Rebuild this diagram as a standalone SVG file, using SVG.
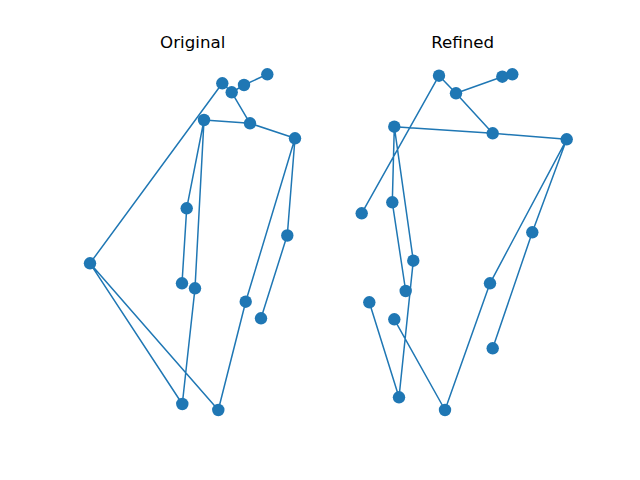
<svg xmlns="http://www.w3.org/2000/svg" width="640" height="480" viewBox="0 0 640 480">
<style>
.t{font-family:"DejaVu Sans",sans-serif;font-size:16.67px;fill:#000;text-anchor:middle}
.e{stroke:#1f77b4;stroke-width:1.5;fill:none;stroke-linecap:round;stroke-linejoin:round}
.n{fill:#1f77b4}
</style>
<rect width="640" height="480" fill="#fff"/>
<text class="t" x="192.7" y="48">Original</text>
<text class="t" x="462.7" y="48">Refined</text>
<g id="connectors">
<path class="e" d="M222.3,83.3 L90,263.3 M90,263.3 L182.3,404 M90,263.3 L218.3,410 M222.3,83.3 L231.7,92.3 L244,85 L267.3,74.3 M231.7,92.3 L250,123.3 M204,120 L250,123.3 L295,138.3 M204,120 L186.7,208.3 L182,283.3 M204,120 L195,288.3 L182.3,404 M295,138.3 L287.3,235 L261,318.3 M295,138.3 L245.7,301.7 L218.3,410"/>
<path class="e" d="M439,75.7 L361.7,213.3 M439,75.7 L456,93.3 L502.3,76.7 L512.3,74.3 M456,93.3 L492.7,133.3 M394.3,126.7 L492.7,133.3 L566.7,139.3 M394.3,126.7 L392.3,202.3 L405.7,291 M394.3,126.7 L413.3,260.7 L399,397.3 M369.3,302.3 L399,397.3 M394.3,319.3 L445,410 M566.7,139.3 L532.3,232.3 L492.7,348.3 M566.7,139.3 L490,283.3 L445,410"/>
</g>
<g id="original">
<circle id="o1" class="n" cx="222.3" cy="83.3" r="6.2"/>
<circle id="o2" class="n" cx="231.7" cy="92.3" r="6.2"/>
<circle id="o3" class="n" cx="244" cy="85" r="6.2"/>
<circle id="o4" class="n" cx="267.3" cy="74.3" r="6.2"/>
<circle id="o5" class="n" cx="204" cy="120" r="6.2"/>
<circle id="o6" class="n" cx="250" cy="123.3" r="6.2"/>
<circle id="o7" class="n" cx="295" cy="138.3" r="6.2"/>
<circle id="o8" class="n" cx="186.7" cy="208.3" r="6.2"/>
<circle id="o9" class="n" cx="287.3" cy="235.5" r="6.2"/>
<circle id="o10" class="n" cx="90" cy="263.3" r="6.2"/>
<circle id="o11" class="n" cx="182" cy="283.3" r="6.2"/>
<circle id="o12" class="n" cx="195" cy="288.3" r="6.2"/>
<circle id="o13" class="n" cx="245.7" cy="301.7" r="6.2"/>
<circle id="o14" class="n" cx="261" cy="318.3" r="6.2"/>
<circle id="o15" class="n" cx="182.3" cy="404" r="6.2"/>
<circle id="o16" class="n" cx="218.3" cy="410" r="6.2"/>
</g>
<g id="refined">
<circle id="r1" class="n" cx="439" cy="75.7" r="6.2"/>
<circle id="r2" class="n" cx="456" cy="93.3" r="6.2"/>
<circle id="r3" class="n" cx="502.3" cy="76.7" r="6.2"/>
<circle id="r4" class="n" cx="512.3" cy="74.3" r="6.2"/>
<circle id="r5" class="n" cx="394.3" cy="126.7" r="6.2"/>
<circle id="r6" class="n" cx="492.7" cy="133.3" r="6.2"/>
<circle id="r7" class="n" cx="566.7" cy="139.3" r="6.2"/>
<circle id="r8" class="n" cx="361.7" cy="213.3" r="6.2"/>
<circle id="r9" class="n" cx="392.3" cy="202.3" r="6.2"/>
<circle id="r10" class="n" cx="532.3" cy="232.3" r="6.2"/>
<circle id="r11" class="n" cx="413.3" cy="260.7" r="6.2"/>
<circle id="r12" class="n" cx="405.7" cy="291" r="6.2"/>
<circle id="r13" class="n" cx="369.3" cy="302.3" r="6.2"/>
<circle id="r14" class="n" cx="394.3" cy="319.3" r="6.2"/>
<circle id="r15" class="n" cx="490" cy="283.3" r="6.2"/>
<circle id="r16" class="n" cx="492.7" cy="348.3" r="6.2"/>
<circle id="r17" class="n" cx="399" cy="397.3" r="6.2"/>
<circle id="r18" class="n" cx="445" cy="410" r="6.2"/>
</g>
</svg>
